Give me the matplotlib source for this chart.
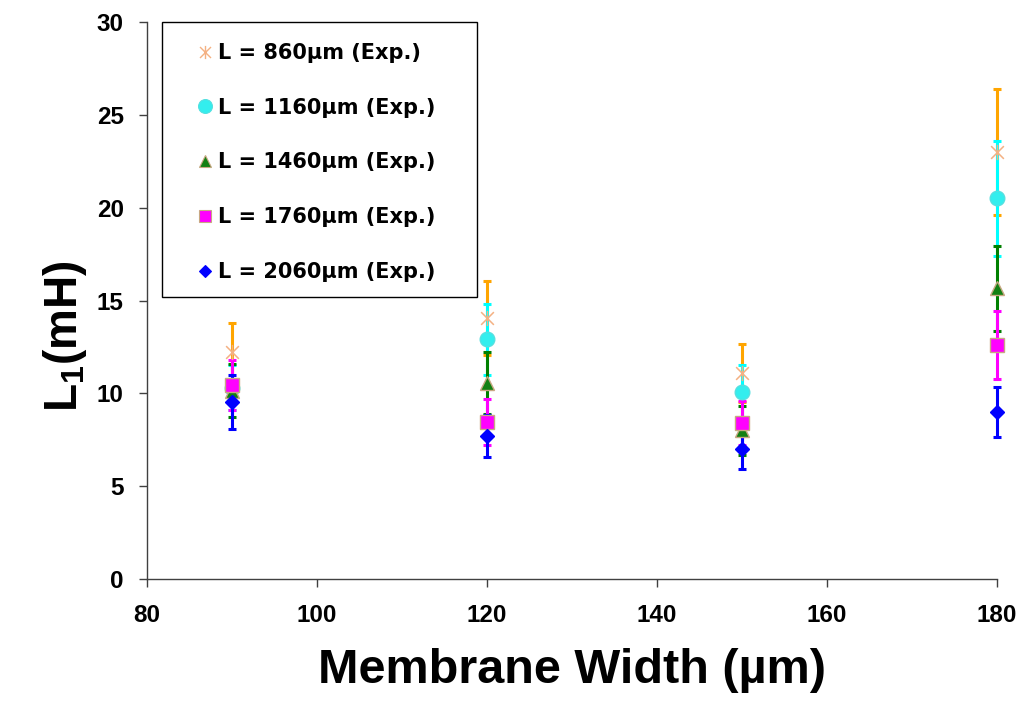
import matplotlib
matplotlib.use("Agg")
import matplotlib.pyplot as plt
from matplotlib.path import Path
from matplotlib.patches import Rectangle
from matplotlib import font_manager

installed = {f.name for f in font_manager.fontManager.ttflist}
narrow = 'Liberation Sans Narrow' if 'Liberation Sans Narrow' in installed else None

plt.rcParams['font.family'] = ['Liberation Sans', 'DejaVu Sans']
plt.rcParams['mathtext.fontset'] = 'custom'
plt.rcParams['mathtext.bf'] = (narrow or 'Liberation Sans') + ':bold'
plt.rcParams['mathtext.rm'] = (narrow or 'Liberation Sans') + ':bold'

widths = [90, 120, 150, 180]
labels = ["L = 860µm (Exp.)", "L = 1160µm (Exp.)", "L = 1460µm (Exp.)",
          "L = 1760µm (Exp.)", "L = 2060µm (Exp.)"]

L860 = [12.2, 14.05, 11.1, 23.0]
L860_err = [1.6, 2.0, 1.55, 3.4]
L1160 = [10.3, 12.9, 10.05, 20.5]
L1160_err = [1.2, 1.9, 1.45, 3.1]
L1460 = [10.15, 10.55, 8.0, 15.65]
L1460_err = [1.45, 1.65, 1.3, 2.3]
L1760 = [10.45, 8.45, 8.4, 12.6]
L1760_err = [1.35, 1.25, 1.2, 1.85]
L2060 = [9.55, 7.7, 7.0, 9.0]
L2060_err = [1.45, 1.15, 1.1, 1.35]

series = [L860, L1160, L1460, L1760, L2060]
errs = [L860_err, L1160_err, L1460_err, L1760_err, L2060_err]
err_colors = ['#FFA500', '#00FFFF', '#008000', '#FF00FF', '#0000FF']

star = Path([(-1, -1), (1, 1), (-1, 1), (1, -1), (0, -1.2), (0, 1.2)],
            [Path.MOVETO, Path.LINETO, Path.MOVETO, Path.LINETO, Path.MOVETO, Path.LINETO])
mk = [star, 'o', '^', 's', 'D']
mk_face = ['#F4B183', '#33EEEE', '#138013', '#FF00FF', '#0000FF']
mk_edge = ['#F4B183', '#55E0E0', '#C8A882', '#C8A882', '#0000FF']
mk_size = [11, 10.5, 9.5, 10, 7]
leg_size = [9.5, 10, 9, 9, 6]

fig = plt.figure(figsize=(10.18, 7.02), dpi=100)
ax = fig.add_axes([147/1018, 1 - 579/702, 850/1018, 557/702])

for y, e, c in zip(series, errs, err_colors):
    ax.errorbar(widths, y, yerr=e, fmt='none', ecolor=c, elinewidth=2.2,
                capsize=2.6, capthick=2.2, zorder=2, clip_on=False)

for y, m, fc, ec, ms in zip(series, mk, mk_face, mk_edge, mk_size):
    if m is star:
        ax.plot(widths, y, linestyle='none', marker=m, markersize=ms,
                markeredgecolor=fc, markeredgewidth=1.1, zorder=3, clip_on=False)
    else:
        ax.plot(widths, y, linestyle='none', marker=m, markersize=ms,
                markerfacecolor=fc, markeredgecolor=ec, markeredgewidth=1.0,
                zorder=3, clip_on=False)

ax.set_xlim(80, 180)
ax.set_ylim(0, 30)
ax.set_xticks([80, 100, 120, 140, 160, 180])
ax.set_yticks([0, 5, 10, 15, 20, 25, 30])
ax.spines['top'].set_visible(False)
ax.spines['right'].set_visible(False)
for s in ['left', 'bottom']:
    ax.spines[s].set_linewidth(1.0)
    ax.spines[s].set_color('#404040')
ax.tick_params(direction='out', length=5.8, width=1, color='#404040', labelsize=17.5)
ax.tick_params(axis='y', pad=11)
ax.tick_params(axis='x', pad=12)
for t in ax.get_xticklabels() + ax.get_yticklabels():
    t.set_fontweight('bold')

# axis titles
ax.set_xlabel("Membrane Width (µm)", fontsize=35, fontweight='bold')
ax.xaxis.set_label_coords(0.5, (579 - 683) / 557)
ax.xaxis.label.set_verticalalignment('baseline')

if narrow:
    ax.set_ylabel("L$_\\mathbf{1}$(mH)", fontsize=41, fontweight='bold', family=narrow)
else:
    ax.set_ylabel("L$_\\mathbf{1}$(mH)", fontsize=33, fontweight='bold')
ax.yaxis.set_label_coords((77 - 147) / 850, (579 - 336) / 557)
ax.yaxis.label.set_verticalalignment('baseline')

# legend (drawn in axes fraction)
bx0, bx1 = (162 - 147) / 850, (477 - 147) / 850
by0, by1 = (579 - 297) / 557, (579 - 22) / 557
ax.add_patch(Rectangle((bx0, by0), bx1 - bx0, by1 - by0, transform=ax.transAxes,
                       facecolor='white', edgecolor='black', linewidth=1.0,
                       zorder=5, clip_on=False))
row_px = [51.5, 106, 160.5, 215.5, 270.5]
mx = (205 - 147) / 850
tx = (218 - 147) / 850
for r, m, fc, ec, ms, lab in zip(row_px, mk, mk_face, mk_edge, leg_size, labels):
    yy = (579 - r) / 557
    if m is star:
        ax.plot([mx], [yy], transform=ax.transAxes, linestyle='none', marker=m,
                markersize=ms, markeredgecolor=fc, markeredgewidth=1.0,
                zorder=6, clip_on=False)
    else:
        ax.plot([mx], [yy], transform=ax.transAxes, linestyle='none', marker=m,
                markersize=ms, markerfacecolor=fc, markeredgecolor=ec,
                markeredgewidth=0.8, zorder=6, clip_on=False)
    ax.text(tx, (579 - r - 7.5) / 557, lab, transform=ax.transAxes, ha='left',
            va='baseline', fontsize=15, fontweight='bold', family='DejaVu Sans',
            zorder=6)

fig.savefig("out.png", dpi=100)
